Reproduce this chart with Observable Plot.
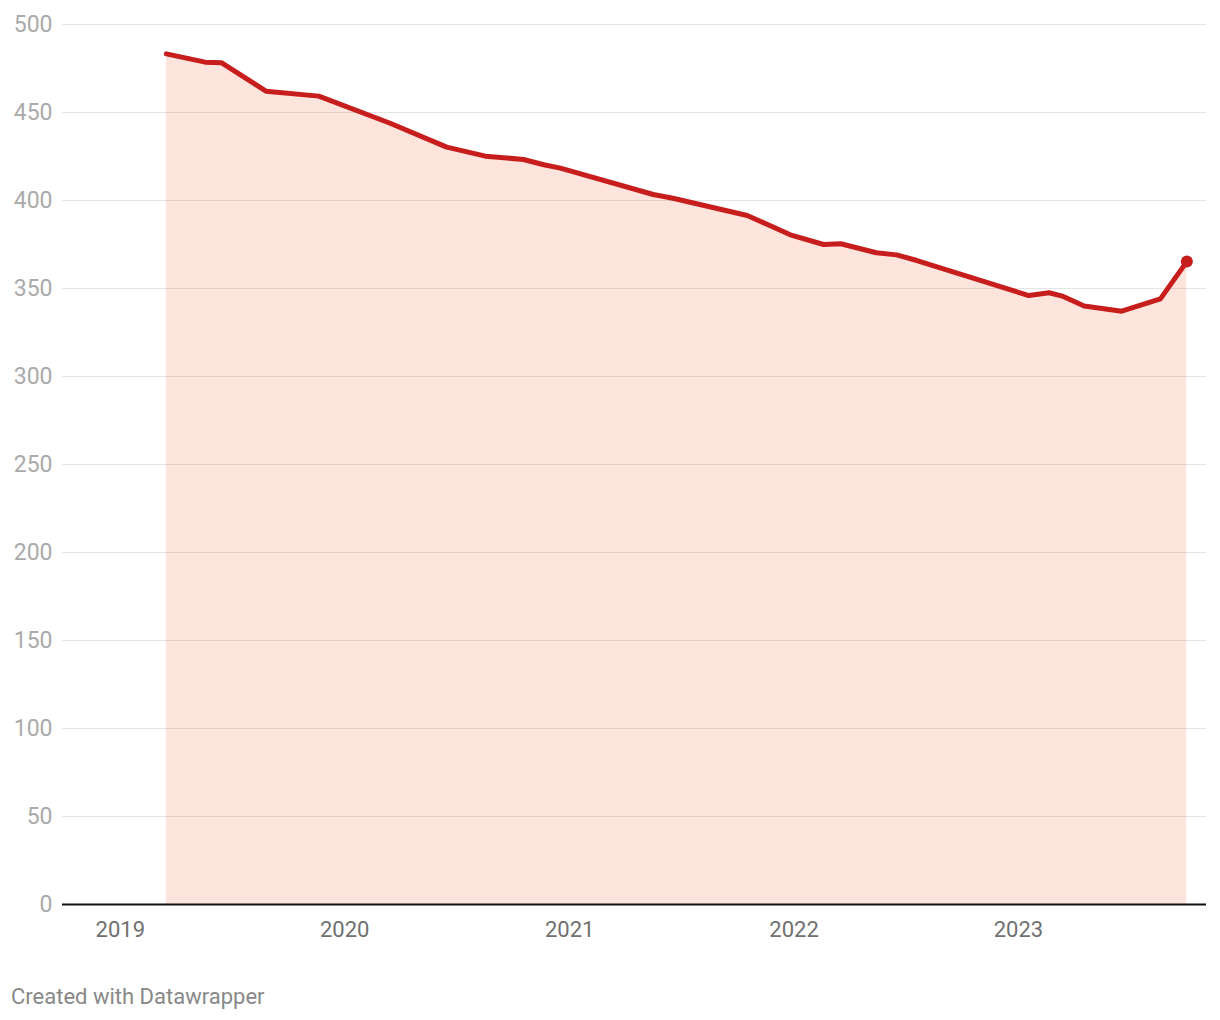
<!DOCTYPE html>
<html>
<head>
<meta charset="utf-8">
<script src="https://cdn.jsdelivr.net/npm/d3@7"></script>
<script src="https://cdn.jsdelivr.net/npm/@observablehq/plot@0.6"></script>
<style>
  html, body { margin: 0; padding: 0; background: #fff; }
  body { width: 1220px; font-family: Roboto, "Noto Sans", sans-serif; }
  #chart svg { display: block; }
  .caption { font-family: Roboto, sans-serif; font-size: 22px; line-height: 26px; color: #888; margin: 24px 0 0 11px; }
</style>
</head>
<body>
<div id="chart"></div>
<div class="caption">Created with Datawrapper</div>
<script>
const dates = ["2019-03-17","2019-05-19","2019-06-15","2019-08-26","2019-11-20","2020-03-15","2020-06-15","2020-08-17","2020-10-18","2020-11-20","2020-12-17","2021-05-17","2021-06-18","2021-10-17","2021-12-26","2022-02-18","2022-03-18","2022-05-15","2022-06-17","2022-07-20","2023-01-18","2023-02-20","2023-03-15","2023-04-18","2023-06-18","2023-08-20","2023-10-02"];
const values = [483.3,478.6,478.2,462.1,459.3,443.9,430.3,425.2,423.3,420.3,418.4,403.4,401.3,391.5,380.5,375,375.4,370.3,369.1,365.9,346,347.6,345.5,340,337.1,344.1,365.3];
const yTicks = [0,50,100,150,200,250,300,350,400,450,500];
const xTickYears = [2019,2020,2021,2022,2023];

const data = dates.map((d, i) => ({date: new Date(d + "T00:00:00"), value: values[i]}));
const last = data[data.length - 1];
const xTicks = xTickYears.map(y => new Date(y + "-01-01T00:00:00"));

const chart = Plot.plot({
  width: 1220,
  height: 960,
  marginLeft: 62,
  marginRight: 14,
  marginTop: 24,
  marginBottom: 56,
  style: {fontFamily: "Roboto, sans-serif", background: "#fff"},
  x: {type: "utc", domain: [new Date("2018-09-29T00:00:00"), new Date("2023-11-03T00:00:00")]},
  y: {domain: [0, 500]},
  marks: [
    Plot.areaY(data, {x: "date", y: "value", fill: "#fde4dc"}),
    Plot.gridY(yTicks, {stroke: "#000", strokeOpacity: 0.1, strokeWidth: 1}),
    Plot.axisY(yTicks, {tickSize: 0, tickPadding: 10, fontSize: 23, fill: "#aaa", label: null}),
    Plot.axisX(xTicks, {tickSize: 0, tickPadding: 17, fontSize: 22, fill: "#707070", label: null, tickFormat: d3.utcFormat("%Y")}),
    Plot.ruleY([0], {stroke: "#111", strokeWidth: 2}),
    Plot.lineY(data, {x: "date", y: "value", stroke: "#c71e1d", strokeWidth: 5, strokeLinejoin: "round", strokeLinecap: "round"}),
    Plot.dot([last], {x: "date", y: "value", r: 6, fill: "#c71e1d"})
  ]
});
document.getElementById("chart").appendChild(chart);
</script>
</body>
</html>
